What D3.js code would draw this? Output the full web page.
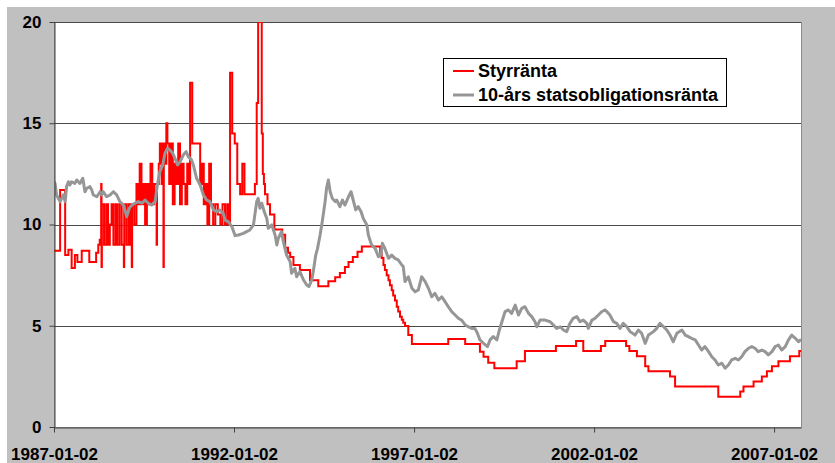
<!DOCTYPE html>
<html>
<head>
<meta charset="utf-8">
<script src="https://cdn.jsdelivr.net/npm/d3@7"></script>
<style>
  html, body { margin: 0; padding: 0; background: #ffffff; }
  svg { display: block; font-family: "Liberation Sans", Arial, Helvetica, sans-serif; }
</style>
</head>
<body>
<svg id="chart" width="835" height="463"></svg>
<script>
// Riksbank policy rate (Styrränta), step changes: [decimal year, percent]
const styrranta = [
  [1987.00, 8.7], [1987.17, 11.7], [1987.31, 8.5], [1987.40, 8.75], [1987.49, 7.85],
  [1987.58, 8.5], [1987.65, 8.15], [1987.77, 8.7], [1987.98, 8.15], [1988.17, 8.6],
  [1988.23, 9.0], [1988.27, 9.25],
  // marginal rate period, frequent changes
  [1988.31, 12.0], [1988.32, 7.9], [1988.33, 11.0], [1988.39, 9.0], [1988.45, 11.0],
  [1988.50, 9.0], [1988.55, 10.0], [1988.60, 11.0], [1988.65, 9.0], [1988.71, 11.0],
  [1988.76, 9.0], [1988.82, 11.0], [1988.88, 9.0], [1988.94, 7.9], [1988.95, 11.0],
  [1989.01, 9.0], [1989.07, 11.0], [1989.12, 9.0], [1989.16, 7.9], [1989.17, 11.0],
  [1989.23, 10.0], [1989.29, 12.0], [1989.33, 11.0], [1989.38, 13.0], [1989.43, 11.0],
  [1989.48, 12.0], [1989.53, 10.0], [1989.58, 12.0], [1989.63, 11.0], [1989.68, 13.0],
  [1989.73, 11.0], [1989.78, 12.0], [1989.85, 9.0], [1989.86, 12.0], [1989.91, 13.0],
  [1989.94, 14.0], [1989.99, 12.0], [1990.03, 14.0], [1990.04, 7.9], [1990.05, 14.0],
  [1990.09, 13.0], [1990.12, 15.0], [1990.15, 14.0], [1990.20, 12.0], [1990.25, 14.0],
  [1990.30, 11.0], [1990.35, 13.0], [1990.40, 12.0], [1990.45, 14.0], [1990.50, 11.0],
  [1990.55, 13.0], [1990.60, 12.0], [1990.65, 11.0], [1990.70, 13.0], [1990.74, 12.0],
  [1990.78, 17.0], [1990.84, 14.0], [1991.06, 12.0], [1991.11, 13.0], [1991.16, 11.0],
  [1991.21, 12.0], [1991.26, 10.0], [1991.31, 13.0], [1991.36, 11.0], [1991.42, 10.0],
  [1991.48, 11.0], [1991.55, 10.5], [1991.62, 10.0], [1991.68, 11.0], [1991.75, 10.0],
  [1991.81, 11.0], [1991.86, 10.0],
  // crisis of 1991-1992
  [1991.89, 17.5], [1991.95, 14.5], [1992.02, 14.0], [1992.09, 12.0], [1992.17, 11.5],
  [1992.23, 13.0], [1992.29, 11.5], [1992.58, 12.0], [1992.63, 16.0], [1992.67, 24.0],
  [1992.69, 75.0], [1992.71, 500.0], [1992.73, 50.0], [1992.75, 20.0], [1992.77, 14.5],
  [1992.80, 12.5], [1992.83, 12.0], [1992.86, 11.5], [1992.93, 11.0], [1993.00, 10.5],
  [1993.12, 9.75], [1993.34, 9.5], [1993.42, 8.85], [1993.50, 8.6], [1993.56, 8.4],
  [1993.65, 8.0], [1993.83, 7.75], [1994.11, 7.25], [1994.34, 6.95], [1994.62, 7.2],
  [1994.81, 7.4], [1994.94, 7.6], [1995.08, 7.9], [1995.18, 8.15], [1995.30, 8.4],
  [1995.43, 8.65], [1995.55, 8.91],
  // cuts during 1996
  [1996.06, 8.6], [1996.10, 8.35], [1996.15, 8.0], [1996.19, 7.75], [1996.24, 7.5],
  [1996.29, 7.25], [1996.33, 7.0], [1996.38, 6.75], [1996.42, 6.5], [1996.47, 6.25],
  [1996.52, 5.94], [1996.56, 5.7], [1996.61, 5.45], [1996.66, 5.3], [1996.70, 5.15],
  [1996.75, 4.99], [1996.84, 4.54], [1996.94, 4.1],
  [1997.95, 4.35], [1998.42, 4.1], [1998.83, 3.72], [1998.93, 3.47], [1999.06, 3.17],
  [1999.23, 2.9], [1999.85, 3.25], [2000.08, 3.75], [2000.94, 4.0], [2001.50, 4.25],
  [2001.70, 3.75], [2002.19, 4.0], [2002.31, 4.25], [2002.89, 4.0], [2002.98, 3.75],
  [2003.19, 3.5], [2003.42, 3.0], [2003.51, 2.75], [2004.11, 2.5], [2004.25, 2.0],
  [2005.45, 1.5], [2006.06, 1.75], [2006.15, 2.0], [2006.43, 2.25], [2006.66, 2.5],
  [2006.80, 2.75], [2006.94, 3.0], [2007.12, 3.25], [2007.44, 3.5], [2007.70, 3.75],
  [2007.75, 3.75]
];

// 10-year government bond yield: [decimal year, percent]
const statsobligationsranta = [
  [1987.00, 12.11], [1987.03, 12.03], [1987.07, 11.46], [1987.17, 11.13], [1987.26, 11.46],
  [1987.31, 11.13], [1987.35, 11.87], [1987.40, 12.11], [1987.44, 11.95], [1987.49, 12.11],
  [1987.58, 12.03], [1987.63, 12.2], [1987.72, 12.03], [1987.80, 12.28], [1987.86, 11.62],
  [1987.91, 11.79], [1988.00, 11.87], [1988.05, 11.7], [1988.09, 11.46], [1988.19, 11.37],
  [1988.28, 11.62], [1988.32, 11.46], [1988.37, 11.62], [1988.46, 11.37], [1988.56, 11.46],
  [1988.65, 11.62], [1988.74, 11.46], [1988.83, 11.13], [1988.93, 10.96], [1989.02, 10.39],
  [1989.09, 10.8], [1989.16, 10.96], [1989.25, 11.05], [1989.34, 11.13], [1989.44, 11.05],
  [1989.53, 11.21], [1989.62, 11.05], [1989.71, 10.96], [1989.81, 11.13], [1989.87, 11.95],
  [1989.94, 12.61], [1990.02, 12.94], [1990.08, 13.51], [1990.15, 13.76], [1990.22, 13.68],
  [1990.30, 13.51], [1990.36, 13.27], [1990.43, 12.94], [1990.50, 13.1], [1990.59, 13.43],
  [1990.67, 13.6], [1990.73, 13.35], [1990.82, 13.19], [1990.87, 12.94], [1990.96, 12.28],
  [1991.06, 11.95], [1991.15, 11.46], [1991.24, 11.21], [1991.33, 11.13], [1991.43, 10.72],
  [1991.52, 10.63], [1991.61, 10.72], [1991.70, 10.55], [1991.75, 10.22], [1991.84, 10.14],
  [1991.94, 9.9], [1992.03, 9.45], [1992.12, 9.48], [1992.26, 9.56], [1992.35, 9.65],
  [1992.44, 9.73], [1992.54, 9.98], [1992.63, 11.13], [1992.67, 11.29], [1992.72, 10.8],
  [1992.77, 11.05], [1992.84, 10.63], [1992.91, 10.3], [1992.95, 9.81], [1993.05, 9.98],
  [1993.14, 9.48], [1993.19, 8.99], [1993.23, 9.32], [1993.32, 9.65], [1993.37, 9.15],
  [1993.46, 8.49], [1993.56, 8.16], [1993.60, 7.59], [1993.69, 7.84], [1993.74, 7.42],
  [1993.83, 7.67], [1993.93, 7.26], [1994.02, 7.01], [1994.08, 6.93], [1994.16, 7.26],
  [1994.20, 7.67], [1994.27, 8.49], [1994.32, 8.82], [1994.39, 9.48], [1994.45, 10.14],
  [1994.53, 11.13], [1994.57, 11.79], [1994.62, 12.2], [1994.67, 11.62], [1994.73, 11.29],
  [1994.81, 11.13], [1994.85, 11.21], [1994.94, 10.88], [1995.01, 11.21], [1995.08, 10.96],
  [1995.18, 11.37], [1995.25, 11.62], [1995.31, 11.21], [1995.38, 10.72], [1995.45, 10.88],
  [1995.53, 10.63], [1995.59, 10.3], [1995.69, 9.98], [1995.73, 9.48], [1995.82, 8.99],
  [1995.92, 8.82], [1996.01, 8.41], [1996.08, 8.49], [1996.12, 9.07], [1996.19, 8.82],
  [1996.29, 8.33], [1996.38, 8.49], [1996.47, 8.33], [1996.56, 8.25], [1996.66, 8.0],
  [1996.70, 7.92], [1996.75, 7.18], [1996.84, 7.42], [1996.94, 6.85], [1997.03, 6.68],
  [1997.12, 6.77], [1997.21, 7.42], [1997.31, 7.18], [1997.40, 6.85], [1997.49, 6.43],
  [1997.58, 6.6], [1997.68, 6.27], [1997.77, 6.43], [1997.86, 6.19], [1997.95, 5.94],
  [1998.05, 5.69], [1998.14, 5.53], [1998.23, 5.37], [1998.32, 5.28], [1998.42, 5.04],
  [1998.51, 4.95], [1998.60, 4.87], [1998.69, 4.87], [1998.76, 4.63], [1998.83, 4.3],
  [1998.93, 4.13], [1999.04, 3.97], [1999.11, 4.3], [1999.20, 4.46], [1999.30, 4.3],
  [1999.37, 4.79], [1999.44, 5.2], [1999.53, 5.7], [1999.62, 5.78], [1999.71, 5.61],
  [1999.81, 6.02], [1999.90, 5.53], [1999.99, 5.86], [2000.08, 5.94], [2000.18, 5.61],
  [2000.27, 5.45], [2000.36, 5.2], [2000.41, 4.95], [2000.50, 5.28], [2000.64, 5.28],
  [2000.78, 5.2], [2000.87, 5.04], [2000.96, 4.87], [2001.06, 4.95], [2001.15, 4.79],
  [2001.24, 4.71], [2001.33, 5.12], [2001.42, 5.37], [2001.52, 5.45], [2001.61, 5.2],
  [2001.70, 5.28], [2001.80, 5.12], [2001.84, 4.87], [2001.94, 5.28], [2002.03, 5.37],
  [2002.12, 5.53], [2002.21, 5.69], [2002.31, 5.78], [2002.40, 5.61], [2002.44, 5.53],
  [2002.54, 5.2], [2002.63, 5.12], [2002.72, 4.87], [2002.81, 5.12], [2002.91, 4.95],
  [2003.00, 4.71], [2003.14, 4.54], [2003.23, 4.79], [2003.32, 4.63], [2003.42, 4.13],
  [2003.51, 4.54], [2003.65, 4.71], [2003.74, 4.87], [2003.83, 5.12], [2003.93, 4.95],
  [2004.02, 4.79], [2004.11, 4.54], [2004.20, 4.21], [2004.30, 4.63], [2004.44, 4.79],
  [2004.53, 4.54], [2004.62, 4.46], [2004.71, 4.38], [2004.81, 4.3], [2004.90, 4.05],
  [2004.99, 3.8], [2005.08, 3.97], [2005.18, 3.72], [2005.27, 3.47], [2005.36, 3.31],
  [2005.45, 3.06], [2005.55, 3.15], [2005.64, 2.9], [2005.73, 3.06], [2005.82, 3.31],
  [2005.92, 3.39], [2006.01, 3.31], [2006.10, 3.47], [2006.19, 3.72], [2006.29, 3.89],
  [2006.38, 3.97], [2006.47, 3.89], [2006.56, 3.72], [2006.66, 3.8], [2006.75, 3.72],
  [2006.84, 3.56], [2006.94, 3.72], [2007.03, 3.97], [2007.12, 4.05], [2007.21, 3.8],
  [2007.31, 3.97], [2007.40, 4.3], [2007.49, 4.54], [2007.59, 4.38], [2007.68, 4.21],
  [2007.75, 4.33]
];

const seriesNames = ["Styrränta", "10-års statsobligationsränta"];
const seriesColors = ["#ff0000", "#969696"];
const yTickValues = [0, 5, 10, 15, 20];
const xTickLabels = ["1987-01-02", "1992-01-02", "1997-01-02", "2002-01-02", "2007-01-02"];
const xDomainLabels = ["1987-01-02", "2007-10-02"];

// ---- helpers ----
const parseDay = d3.utcParse("%Y-%m-%d");
const startMs = parseDay(xDomainLabels[0]).getTime();
const DAY = 864e5;
const fromYear = yr => new Date(startMs + (yr - 1987) * 365.25 * DAY);

// ---- layout ----
const W = 835, H = 463;
const plot = { left: 54, right: 801, top: 22, bottom: 427 };

const svg = d3.select("#chart");

// outer chart area
svg.append("rect").attr("x", 7).attr("y", 7).attr("width", W - 7).attr("height", H - 7)
  .attr("fill", "#c0c0c0");

// plot area
svg.append("rect")
  .attr("x", plot.left).attr("y", plot.top)
  .attr("width", plot.right - plot.left).attr("height", plot.bottom - plot.top)
  .attr("fill", "#ffffff").attr("stroke", "#8c8c8c").attr("stroke-width", 1)
  .attr("shape-rendering", "crispEdges");

const x = d3.scaleUtc()
  .domain(xDomainLabels.map(parseDay))
  .range([plot.left, plot.right]);

const y = d3.scaleLinear().domain([0, 20]).range([plot.bottom, plot.top]);

// horizontal gridlines
svg.append("g")
  .selectAll("line")
  .data(yTickValues.filter(v => v > 0))
  .join("line")
  .attr("x1", plot.left).attr("x2", plot.right)
  .attr("y1", d => Math.round(y(d)) + 0.5).attr("y2", d => Math.round(y(d)) + 0.5)
  .attr("stroke", "#4a4a4a").attr("stroke-width", 1);

// clip lines to the plot area
svg.append("defs").append("clipPath").attr("id", "plotClip")
  .append("rect")
  .attr("x", plot.left).attr("y", plot.top)
  .attr("width", plot.right - plot.left).attr("height", plot.bottom - plot.top);

const lines = svg.append("g").attr("clip-path", "url(#plotClip)");

const stepLine = d3.line()
  .x(d => x(fromYear(d[0])))
  .y(d => y(d[1]))
  .curve(d3.curveStepAfter);

const plainLine = d3.line()
  .x(d => x(fromYear(d[0])))
  .y(d => y(d[1]));

lines.append("path")
  .datum(styrranta)
  .attr("fill", "none")
  .attr("stroke", seriesColors[0])
  .attr("stroke-width", 2)
  .attr("stroke-linejoin", "miter")
  .attr("d", stepLine);

lines.append("path")
  .datum(statsobligationsranta)
  .attr("fill", "none")
  .attr("stroke", seriesColors[1])
  .attr("stroke-width", 3)
  .attr("stroke-linejoin", "round")
  .attr("d", plainLine);

// y axis
const yAxis = svg.append("g")
  .attr("transform", `translate(${plot.left + 0.5},0)`)
  .call(d3.axisLeft(y).tickValues(yTickValues).tickSize(5).tickSizeOuter(0).tickPadding(8)
    .tickFormat(d3.format("d")));
yAxis.select(".domain").attr("stroke", "#404040");
yAxis.selectAll(".tick line").attr("stroke", "#404040");
yAxis.selectAll("text")
  .attr("fill", "#000").attr("font-size", "17px").attr("font-weight", "bold")
  .attr("font-family", "'Liberation Sans', Arial, sans-serif");

// x axis
const xAxis = svg.append("g")
  .attr("transform", `translate(0,${plot.bottom + 0.5})`)
  .call(d3.axisBottom(x).tickValues(xTickLabels.map(parseDay)).tickSize(5).tickSizeOuter(0)
    .tickPadding(15).tickFormat(d3.utcFormat("%Y-%m-%d")));
xAxis.select(".domain").attr("stroke", "#404040");
xAxis.selectAll(".tick line").attr("stroke", "#404040");
xAxis.selectAll("text")
  .attr("fill", "#000").attr("font-size", "17px").attr("font-weight", "bold")
  .attr("font-family", "'Liberation Sans', Arial, sans-serif");

// legend
const legend = svg.append("g").attr("transform", "translate(443,58)");
legend.append("rect")
  .attr("x", 0.5).attr("y", 0.5).attr("width", 283).attr("height", 48)
  .attr("fill", "#ffffff").attr("stroke", "#000000").attr("stroke-width", 1);
const rows = legend.selectAll("g.row")
  .data(seriesNames)
  .join("g").attr("class", "row")
  .attr("transform", (d, i) => `translate(0,${13 + i * 24})`);
rows.append("line")
  .attr("x1", 10).attr("x2", 31).attr("y1", 0).attr("y2", 0)
  .attr("stroke", (d, i) => seriesColors[i])
  .attr("stroke-width", (d, i) => i === 0 ? 2 : 3);
rows.append("text")
  .attr("x", 35).attr("y", 0).attr("dy", "0.35em")
  .attr("font-size", "18px").attr("font-weight", "bold").attr("fill", "#000")
  .text(d => d);
</script>
</body>
</html>
